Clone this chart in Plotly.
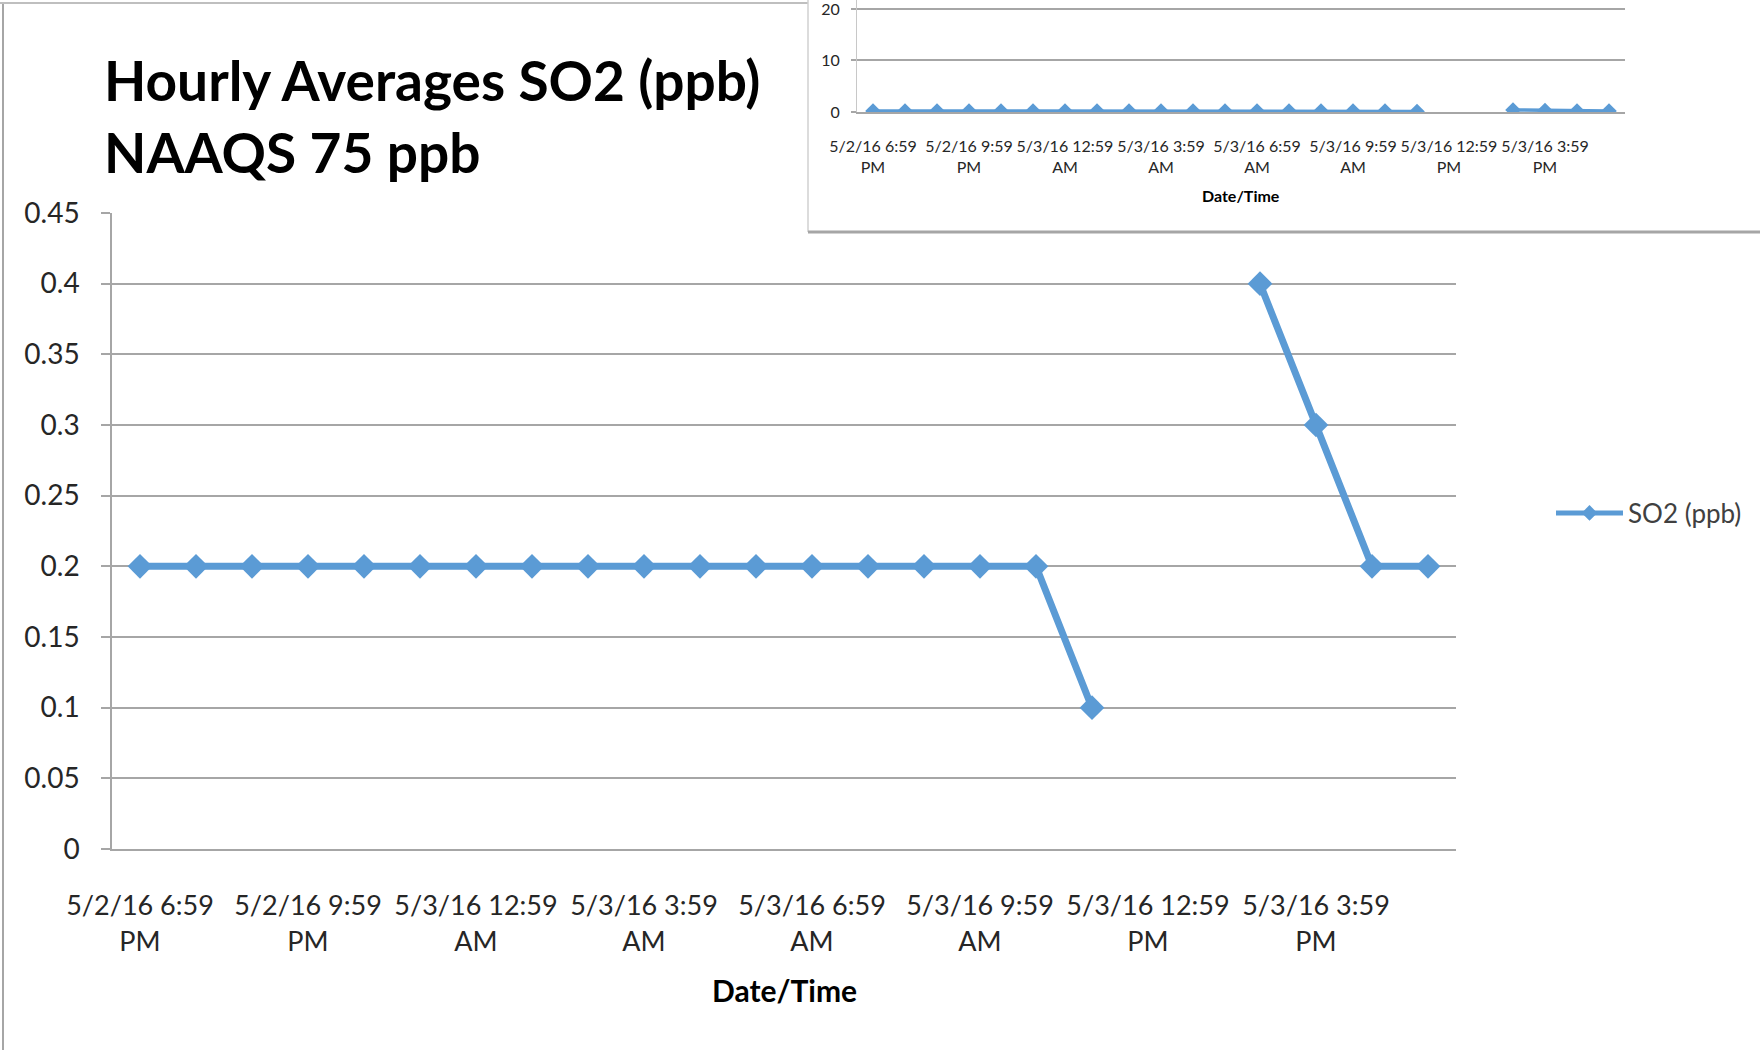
import plotly.graph_objects as go

# ---------------- data ----------------
times = [
    "5/2/16 6:59 PM", "5/2/16 7:59 PM", "5/2/16 8:59 PM", "5/2/16 9:59 PM",
    "5/2/16 10:59 PM", "5/2/16 11:59 PM", "5/3/16 12:59 AM", "5/3/16 1:59 AM",
    "5/3/16 2:59 AM", "5/3/16 3:59 AM", "5/3/16 4:59 AM", "5/3/16 5:59 AM",
    "5/3/16 6:59 AM", "5/3/16 7:59 AM", "5/3/16 8:59 AM", "5/3/16 9:59 AM",
    "5/3/16 10:59 AM", "5/3/16 11:59 AM", "5/3/16 12:59 PM", "5/3/16 1:59 PM",
    "5/3/16 2:59 PM", "5/3/16 3:59 PM", "5/3/16 4:59 PM", "5/3/16 5:59 PM",
]
so2_ppb = [
    0.2, 0.2, 0.2, 0.2, 0.2, 0.2, 0.2, 0.2,
    0.2, 0.2, 0.2, 0.2, 0.2, 0.2, 0.2, 0.2,
    0.2, 0.1, None, None, 0.4, 0.3, 0.2, 0.2,
]
x_tick_text = [
    "5/2/16 6:59<br>PM", "5/2/16 9:59<br>PM", "5/3/16 12:59<br>AM", "5/3/16 3:59<br>AM",
    "5/3/16 6:59<br>AM", "5/3/16 9:59<br>AM", "5/3/16 12:59<br>PM", "5/3/16 3:59<br>PM",
]
x_tick_vals = times[::3]
main_y_ticks = [0, 0.05, 0.1, 0.15, 0.2, 0.25, 0.3, 0.35, 0.4, 0.45]
main_y_text = ["0", "0.05", "0.1", "0.15", "0.2", "0.25", "0.3", "0.35", "0.4", "0.45"]
inset_y_ticks = [0, 10, 20]
inset_y_text = ["0", "10", "20"]

title_text = "<b>Hourly Averages SO2 (ppb)<br>NAAQS 75 ppb</b>"
series_name = "SO2 (ppb)"
x_title = "<b>Date/Time</b>"

# ---------------- style ----------------
W, H = 1760, 1050
BLUE = "#5B9BD5"
GRID = "#a6a6a6"
TXT = "#262626"
FONT = "Lato"

def px_x(p):
    return p / W

def px_y(p):
    return 1 - p / H

fig = go.Figure()

# main series
fig.add_trace(go.Scatter(
    x=times, y=so2_ppb, name=series_name, mode="lines+markers",
    line=dict(color=BLUE, width=7),
    marker=dict(symbol="diamond", size=19, color=BLUE),
    xaxis="x", yaxis="y", connectgaps=False,
))
# empty trace to hold the inset's white backing panel
fig.add_trace(go.Scatter(x=[], y=[], xaxis="x2", yaxis="y2", showlegend=False, hoverinfo="skip"))
# inset series
fig.add_trace(go.Scatter(
    x=times, y=so2_ppb, name=series_name, mode="lines+markers", showlegend=False,
    line=dict(color=BLUE, width=3.5),
    marker=dict(symbol="diamond", size=12, color=BLUE),
    xaxis="x3", yaxis="y3", connectgaps=False,
))

blank_axis = dict(showgrid=False, zeroline=False, showline=False, showticklabels=False,
                  ticks="", fixedrange=True, automargin=False)

fig.update_layout(
    template="none",
    width=W, height=H, autosize=False,
    margin=dict(l=0, r=0, t=0, b=0, pad=0),
    paper_bgcolor="white", plot_bgcolor="white",
    font=dict(family=FONT, color=TXT),
    showlegend=True,
    legend=dict(x=px_x(1551), xanchor="left", y=px_y(513), yanchor="middle",
                font=dict(size=26, color="#404040", family=FONT),
                itemwidth=67, itemsizing="constant", bgcolor="rgba(0,0,0,0)",
                borderwidth=0),
    xaxis=dict(domain=[px_x(112), px_x(1456)], anchor="y", type="category",
               categoryorder="array", categoryarray=times, range=[-0.5, 23.5],
               tickmode="array", tickvals=x_tick_vals, ticktext=x_tick_text,
               tickfont=dict(size=27, color=TXT), ticks="", showgrid=False,
               zeroline=False, showline=True, linecolor=GRID, linewidth=2,
               ticklabelstandoff=32, tickangle=0, automargin=False, fixedrange=True),
    yaxis=dict(domain=[px_y(849), px_y(213)], anchor="x", range=[0, 0.45],
               tickmode="array", tickvals=main_y_ticks, ticktext=main_y_text,
               tickfont=dict(size=28, color=TXT), ticks="outside", ticklen=9,
               tickwidth=2, tickcolor=GRID, showline=True, linecolor=GRID,
               linewidth=1.5, showgrid=True, gridcolor=GRID, gridwidth=2,
               zeroline=False, ticklabelstandoff=16, automargin=False, fixedrange=True),
    xaxis2=dict(domain=[px_x(808), 1], anchor="y2", range=[0, 1], **blank_axis),
    yaxis2=dict(domain=[px_y(232), 1], anchor="x2", range=[0, 1], **blank_axis),
    xaxis3=dict(domain=[px_x(857), px_x(1625)], anchor="y3", type="category",
                categoryorder="array", categoryarray=times, range=[-0.5, 23.5],
                tickmode="array", tickvals=x_tick_vals, ticktext=x_tick_text,
                tickfont=dict(size=16, color=TXT), ticks="", showgrid=False,
                zeroline=False, showline=True, linecolor=GRID, linewidth=1.5,
                ticklabelstandoff=19, tickangle=0, automargin=False, fixedrange=True),
    yaxis3=dict(domain=[px_y(112), 1], anchor="x3", range=[0, 21.74],
                tickmode="array", tickvals=inset_y_ticks, ticktext=inset_y_text,
                tickfont=dict(size=16, color=TXT), ticks="outside", ticklen=5,
                tickwidth=1.5, tickcolor=GRID, showline=True, linecolor="#c8c8c8",
                linewidth=1, showgrid=True, gridcolor=GRID, gridwidth=1.5,
                zeroline=False, ticklabelstandoff=8, ticklabeloverflow="allow",
                automargin=False, fixedrange=True),
    annotations=[
        dict(text=title_text, xref="paper", yref="paper", x=px_x(102), y=px_y(116),
             xanchor="left", yanchor="middle", align="left", showarrow=False,
             font=dict(size=55, color="black", family=FONT)),
        dict(text=x_title, xref="paper", yref="paper", x=px_x(784), y=px_y(990),
             xanchor="center", yanchor="middle", showarrow=False,
             font=dict(size=30, color="black", family=FONT)),
        dict(text=x_title, xref="paper", yref="paper", x=px_x(1241), y=px_y(195),
             xanchor="center", yanchor="middle", showarrow=False,
             font=dict(size=16, color="black", family=FONT)),
    ],
    shapes=[
        # outer frame of the main chart (left and top edges)
        dict(type="line", xref="paper", yref="paper", x0=px_x(3), x1=px_x(3), y0=0, y1=px_y(3),
             line=dict(color="#a6a6a6", width=2), layer="above"),
        dict(type="line", xref="paper", yref="paper", x0=0, x1=px_x(808), y0=px_y(3), y1=px_y(3),
             line=dict(color="#bfbfbf", width=2), layer="above"),
        # inset frame (left and bottom edges)
        dict(type="line", xref="paper", yref="paper", x0=px_x(808), x1=px_x(808), y0=px_y(232), y1=1,
             line=dict(color="#d0d0d0", width=1.5), layer="above"),
        dict(type="line", xref="paper", yref="paper", x0=px_x(808), x1=1, y0=px_y(232), y1=px_y(232),
             line=dict(color="#a6a6a6", width=3), layer="above"),
        # small tick below the main origin
        dict(type="line", xref="x", yref="y", x0=-0.5, x1=-0.5, y0=0, y1=-9,
             ysizemode="pixel", yanchor=0, line=dict(color=GRID, width=1.5), layer="above"),
    ],
)

fig.write_html(
    "out.html",
    config={"displayModeBar": False},
    post_script="document.body.style.margin='0';document.body.style.overflow='hidden';",
)
